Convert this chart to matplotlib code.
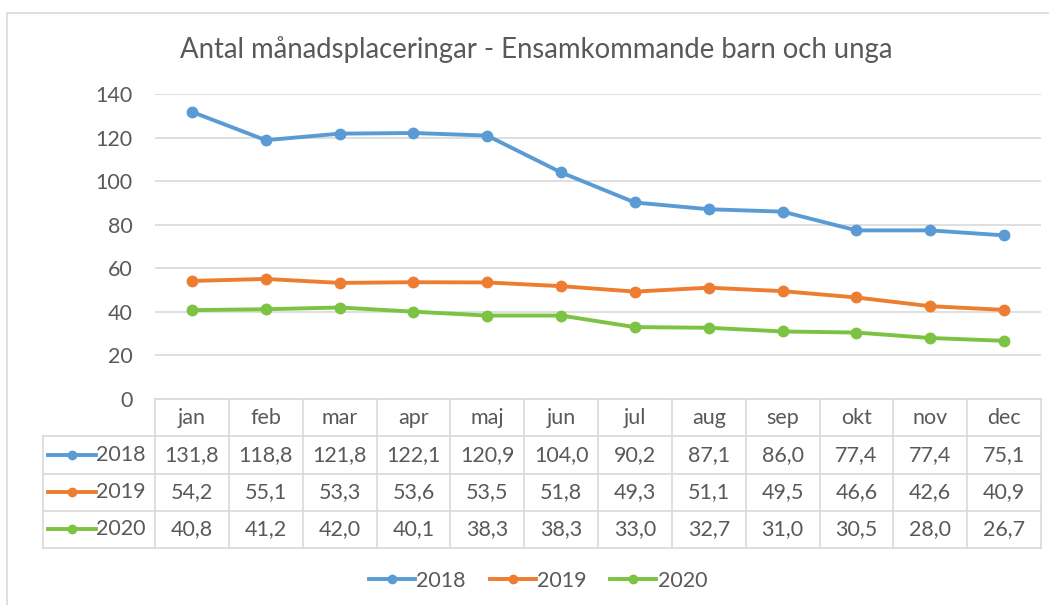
import matplotlib
matplotlib.use("Agg")
import matplotlib.pyplot as plt
from matplotlib.lines import Line2D

plt.rcParams['font.family'] = ['Lato', 'DejaVu Sans']

months = ["jan", "feb", "mar", "apr", "maj", "jun", "jul", "aug", "sep", "okt", "nov", "dec"]
series_names = ["2018", "2019", "2020"]
v2018 = [131.8, 118.8, 121.8, 122.1, 120.9, 104.0, 90.2, 87.1, 86.0, 77.4, 77.4, 75.1]
v2019 = [54.2, 55.1, 53.3, 53.6, 53.5, 51.8, 49.3, 51.1, 49.5, 46.6, 42.6, 40.9]
v2020 = [40.8, 41.2, 42.0, 40.1, 38.3, 38.3, 33.0, 32.7, 31.0, 30.5, 28.0, 26.7]
yticks = [0, 20, 40, 60, 80, 100, 120, 140]
title = "Antal månadsplaceringar - Ensamkommande barn och unga"

colors = ["#5B9BD5", "#ED7D31", "#7CC243"]
txt = "#595959"
gridc = "#D9D9D9"
W, H = 1049, 605
FS = 15.5
LW = 2.8
MS = 7.5

def fx(px):
    return px / W

def fy(py):
    return 1 - py / H

fig = plt.figure(figsize=(W / 100, H / 100), dpi=100)
fig.patch.set_facecolor("white")

# outer chart border
fig.add_artist(Line2D([fx(6.5), fx(6.5)], [fy(13), fy(605)], color=gridc, lw=1.2))
fig.add_artist(Line2D([fx(6.5), fx(1049)], [fy(13), fy(13)], color=gridc, lw=1.2))

# main plot
L, R, T, B = 155, 1041, 94, 399
ax = fig.add_axes([fx(L), fy(B), fx(R) - fx(L), fy(T) - fy(B)])
x = list(range(len(months)))
for vals, c in zip([v2018, v2019, v2020], colors):
    ax.plot(x, vals, color=c, lw=LW, marker="o", ms=MS, zorder=3, solid_capstyle="round")
ax.set_xlim(-0.5, len(months) - 0.5)
ax.set_ylim(0, 140)
ax.set_yticks(yticks)
ax.set_yticklabels([str(t) for t in yticks], fontsize=FS, color=txt)
ax.tick_params(axis="y", length=0, pad=16)
ax.set_xticks([])
for s in ax.spines.values():
    s.set_visible(False)
ax.grid(axis="y", color=gridc, lw=1.2)
ax.set_axisbelow(True)

# title
fig.text(fx(536.5), fy(50), title, ha="center", va="center", fontsize=19.8, color=txt)

# data table
TL, TT, TB = 43, 399, 548
colw = (R - L) / len(months)
lead = (L - TL) / colw
tab = fig.add_axes([fx(TL), fy(TB), fx(R) - fx(TL), fy(TT) - fy(TB)])
tab.set_xlim(-0.5 - lead, len(months) - 0.5)
tab.set_ylim(4, 0)
tab.axis("off")
lc = "#D9D9D9"
tab.plot([-0.5, len(months) - 0.5], [0, 0], color=lc, lw=1.2, clip_on=False)
for r in range(1, 5):
    tab.plot([-0.5 - lead, len(months) - 0.5], [r, r], color=lc, lw=1.2, clip_on=False)
tab.plot([-0.5 - lead, -0.5 - lead], [1, 4], color=lc, lw=1.2, clip_on=False)
for i in range(len(months) + 1):
    tab.plot([i - 0.5, i - 0.5], [0, 4], color=lc, lw=1.2, clip_on=False)
for i, m in enumerate(months):
    tab.text(i, 0.5, m, ha="center", va="center", fontsize=FS, color=txt)
for r, (name, vals, c) in enumerate(zip(series_names, [v2018, v2019, v2020], colors), start=1):
    k0 = -0.5 - lead + 5 / colw
    k1 = k0 + 48 / colw
    tab.plot([k0, k1], [r + 0.5, r + 0.5], color=c, lw=LW, clip_on=False)
    tab.plot([(k0 + k1) / 2], [r + 0.5], color=c, marker="o", ms=6, clip_on=False)
    tab.text(k1, r + 0.5, name, ha="left", va="center", fontsize=FS, color=txt)
    for i, v in enumerate(vals):
        tab.text(i, r + 0.5, f"{v:.1f}".replace(".", ","), ha="center", va="center",
                 fontsize=FS, color=txt)

# legend
handles = [Line2D([0], [0], color=c, lw=LW, marker="o", ms=6) for c in colors]
fig.legend(handles, series_names, loc="center", bbox_to_anchor=(fx(538), fy(581)),
           ncol=3, frameon=False, fontsize=FS, labelcolor=txt, handlelength=2.15,
           handletextpad=0.05, columnspacing=1.1)

fig.savefig("out.png", dpi=100, facecolor="white")
